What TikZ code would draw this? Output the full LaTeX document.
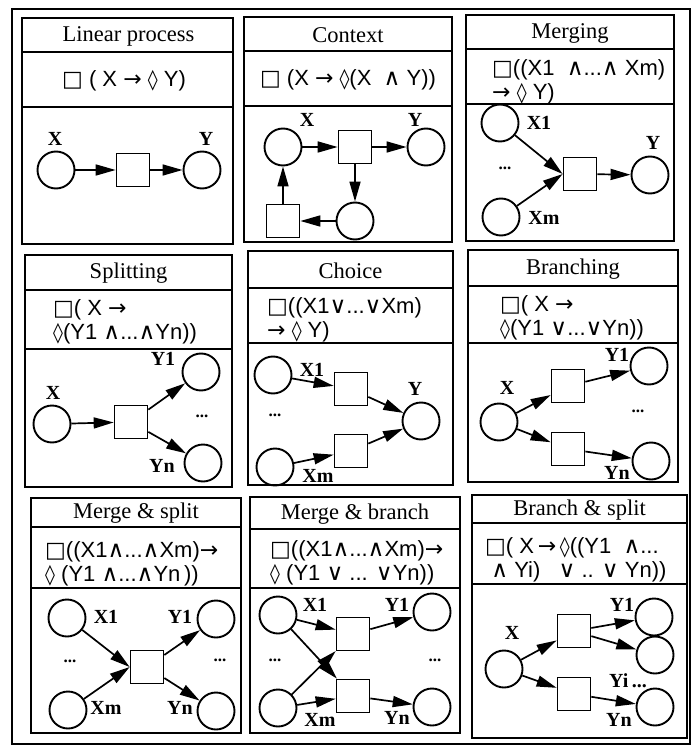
\documentclass[tikz,border=0pt]{standalone}
\usepackage{fontspec}
\setmainfont{Liberation Serif}
\newfontfamily\fsans{Liberation Sans}
\newfontfamily\fsym{DejaVu Sans}
\usetikzlibrary{arrows.meta}
\newcommand{\lBox}{{\fsym □}}
\newcommand{\lArr}{{\fsym →}}
\newcommand{\lDia}{{\fsym\fontsize{20}{20}\selectfont ◊}}
\newcommand{\lAnd}{{\fsym\fontsize{23}{23}\selectfont ∧}}
\newcommand{\lOr}{{\fsym\fontsize{23}{23}\selectfont ∨}}
\newcommand{\mypanel}[6]{%
  \draw[box] (#1,#2) rectangle (#3,#4);
  \draw[box] (#1,#5) -- (#3,#5);
  \draw[box] (#1,#6) -- (#3,#6);}
\begin{document}
\begin{tikzpicture}[x=1pt,y=-1pt,
  box/.style={draw, line width=2pt},
  circ/.style={draw, circle, line width=1.9pt, minimum size=37pt, inner sep=0pt},
  sqr/.style={draw, rectangle, line width=1.7pt, minimum size=33pt, inner sep=0pt},
  arr/.style={line width=1.7pt, -{Triangle[length=20pt,width=11pt]}},
  ttl/.style={font=\fontsize{22.5}{24}\selectfont, inner sep=0pt},
  fml/.style={font=\fsans\fontsize{22}{24}\selectfont, inner sep=0pt, align=left, anchor=west},
  lbl/.style={font=\bfseries\fontsize{20}{20}\selectfont, inner sep=0pt},
  dts/.style={font=\bfseries\fontsize{17}{17}\selectfont, inner sep=0pt}
]
\fill[white] (0,0) rectangle (698,751);
\useasboundingbox (0,0) rectangle (698,751);
\draw[line width=1.8pt] (12,9) rectangle (690,744);

% panels
\mypanel{22}{18}{233}{244}{52}{107}
\mypanel{244}{17}{452}{242}{51}{106}
\mypanel{466}{15}{674}{241}{49}{104}
\mypanel{25}{255}{232}{487}{290}{349}
\mypanel{248}{251}{453}{485}{288}{343}
\mypanel{468}{250}{678}{482}{286}{343}
\mypanel{31}{498}{241}{733}{527}{588}
\mypanel{250}{497}{460}{733}{529}{588}
\mypanel{472}{495}{687}{738}{523}{584}

% titles
\node[ttl] (t1) at (128.5,36) {Linear process};
\node[ttl] (t2) at (348,35) {Context};
\node[ttl] (t3) at (570,33) {Merging};
\node[ttl] (t4) at (128.5,273.5) {Splitting};
\node[ttl] (t5) at (350.5,270.5) {Choice};
\node[ttl] (t6) at (573,269) {Branching};
\node[ttl] (t7) at (136,513.5) {Merge \& split};
\node[ttl] (t8) at (355,514) {Merge \& branch};
\node[ttl] (t9) at (579.5,510) {Branch \& split};

% formulas
\node[fml, anchor=center] (fa) at (124,81) {\lBox\ ( X \lArr\ \lDia\ Y)};
\node[fml, anchor=center] (fb) at (348,80) {\lBox\ (X \lArr\ \lDia(X\ \ \lAnd\ Y))};
\node[fml] (fc) at (492,82) {\lBox((X1\ \ \lAnd...\lAnd\ Xm)\\\lArr\ \lDia\ Y)};
\node[fml] (fd) at (53,322) {\lBox( X \lArr\\\lDia(Y1 \lAnd...\lAnd Yn))};
\node[fml] (fe) at (267,320) {\lBox((X1\lOr...\lOr Xm)\\\lArr\ \lDia\ Y)};
\node[fml] (ff) at (500,318) {\lBox( X \lArr\\\lDia(Y1 \lOr...\lOr Yn))};
\node[fml] (fg) at (45,564) {\lBox((X1\lAnd...\lAnd Xm)\lArr\\\lDia\ (Y1 \lAnd...\lAnd Yn\,))};
\node[fml] (fh) at (270,563) {\lBox((X1\lAnd...\lAnd Xm)\lArr\\\lDia\ (Y1 \lOr\ ... \lOr Yn))};
\node[fml] (fi) at (485,560) {\lBox( X\,\lArr\,\lDia((Y1\ \ \lAnd...\\\ \lAnd\ Yi)\ \ \ \lOr\ .. \lOr\ Yn))};

% P1 Linear process
\node[circ] (a1) at (56,170) {};
\node[sqr] (a2) at (133,170) {};
\node[circ] (a3) at (202,170) {};
\node[lbl] (a1l) at (55,139) {X};
\node[lbl] (a3l) at (206,139) {Y};
\draw[arr] (a1) -- (a2);
\draw[arr] (a2) -- (a3);

% P2 Context
\node[circ] (b1) at (283,147) {};
\node[sqr] (b2) at (355,147) {};
\node[circ] (b3) at (426,147) {};
\node[circ] (b4) at (355,221) {};
\node[sqr] (b5) at (283,221) {};
\node[lbl] (b1l) at (307,120) {X};
\node[lbl] (b3l) at (415,120) {Y};
\draw[arr] (b1) -- (b2);
\draw[arr] (b2) -- (b3);
\draw[arr] (b2) -- (b4);
\draw[arr] (b4) -- (b5);
\draw[arr] (b5) -- (b1);

% P3 Merging
\node[circ] (c1) at (500,123) {};
\node[circ] (c2) at (501,217) {};
\node[sqr] (c3) at (580,174) {};
\node[circ] (c4) at (650,175) {};
\node[lbl] (c1l) at (539,123) {X1};
\node[dts] (c0) at (505,168) {...};
\node[lbl] (c4l) at (653,143) {Y};
\node[lbl] (c2l) at (544,218) {Xm};
\draw[arr] (c1) -- (c3.west);
\draw[arr] (c2) -- (c3.west);
\draw[arr] (c3) -- (c4);

% P4 Splitting
\node[circ] (d1) at (52,424) {};
\node[sqr] (d2) at (131,422) {};
\node[circ] (d3) at (201,372) {};
\node[circ] (d4) at (203,463) {};
\node[lbl] (d1l) at (53,393) {X};
\node[lbl] (d3l) at (163,359) {Y1};
\node[dts] (d0) at (202,416) {...};
\node[lbl] (d4l) at (162,466) {Yn};
\draw[arr] (d1) -- (d2);
\draw[arr] (d2) -- (d3);
\draw[arr] (d2) -- (d4);

% P5 Choice
\node[circ] (e1) at (273,375) {};
\node[circ] (e2) at (275,467) {};
\node[sqr] (e3) at (351,389) {};
\node[sqr] (e4) at (351,451) {};
\node[circ] (e5) at (421,421) {};
\node[lbl] (e1l) at (312,370) {X1};
\node[lbl] (e5l) at (415,389) {Y};
\node[dts] (e0) at (275,415) {...};
\node[lbl] (e2l) at (318,476) {Xm};
\draw[arr] (e1) -- (e3);
\draw[arr] (e2) -- (e4);
\draw[arr] (e3) -- (e5);
\draw[arr] (e4) -- (e5);

% P6 Branching
\node[circ] (f1) at (499,422) {};
\node[sqr] (f2) at (568,386) {};
\node[sqr] (f3) at (568,449) {};
\node[circ] (f4) at (649,366) {};
\node[circ] (f5) at (651,461) {};
\node[lbl] (f1l) at (507,388) {X};
\node[lbl] (f4l) at (617,355) {Y1};
\node[dts] (f0) at (638,411) {...};
\node[lbl] (f5l) at (617,473) {Yn};
\draw[arr] (f1) -- (f2);
\draw[arr] (f1) -- (f3);
\draw[arr] (f2) -- (f4);
\draw[arr] (f3) -- (f5);

% P7 Merge & split
\node[circ] (g1) at (67,618) {};
\node[circ] (g2) at (68,710) {};
\node[sqr] (g3) at (147,667) {};
\node[circ] (g4) at (216,619) {};
\node[circ] (g5) at (216,711) {};
\node[lbl] (g1l) at (106,617) {X1};
\node[lbl] (g4l) at (180,617) {Y1};
\node[dts] (g0) at (70,661) {...};
\node[dts] (g6) at (220,660) {...};
\node[lbl] (g2l) at (106,708) {Xm};
\node[lbl] (g5l) at (180,708) {Yn};
\draw[arr] (g1) -- (g3.west);
\draw[arr] (g2) -- (g3.west);
\draw[arr] (g3) -- (g4);
\draw[arr] (g3) -- (g5);

% P8 Merge & branch
\node[circ] (h1) at (278,615) {};
\node[circ] (h2) at (278,708) {};
\node[sqr] (h3) at (353,634) {};
\node[sqr] (h4) at (353,696) {};
\node[circ] (h5) at (432,612) {};
\node[circ] (h6) at (432,707) {};
\node[lbl] (h1l) at (315,605) {X1};
\node[lbl] (h5l) at (397,605) {Y1};
\node[dts] (h0) at (275,660) {...};
\node[dts] (h7) at (435,660) {...};
\node[lbl] (h2l) at (320,720) {Xm};
\node[lbl] (h6l) at (397,718) {Yn};
\draw[arr] (h1) -- (h3);
\draw[arr] (h1) -- (h4);
\draw[arr] (h2) -- (h3);
\draw[arr] (h2) -- (h4);
\draw[arr] (h3) -- (h5);
\draw[arr] (h4) -- (h6);

% P9 Branch & split
\node[circ] (i1) at (504,669) {};
\node[sqr] (i2) at (574,631) {};
\node[sqr] (i3) at (574,694) {};
\node[circ] (i4) at (654,617) {};
\node[circ] (i5) at (655,655) {};
\node[circ] (i6) at (655,707) {};
\node[lbl] (i1l) at (512,633) {X};
\node[lbl] (i4l) at (622,605) {Y1};
\node[lbl] (i5l) at (628,681) {Yi\,...};
\node[lbl] (i6l) at (619,720) {Yn};
\draw[arr] (i1) -- (i2);
\draw[arr] (i1) -- (i3);
\draw[arr] (i2) -- (i4);
\draw[arr] (i2) -- (i5);
\draw[arr] (i3) -- (i6);
\end{tikzpicture}
\end{document}
